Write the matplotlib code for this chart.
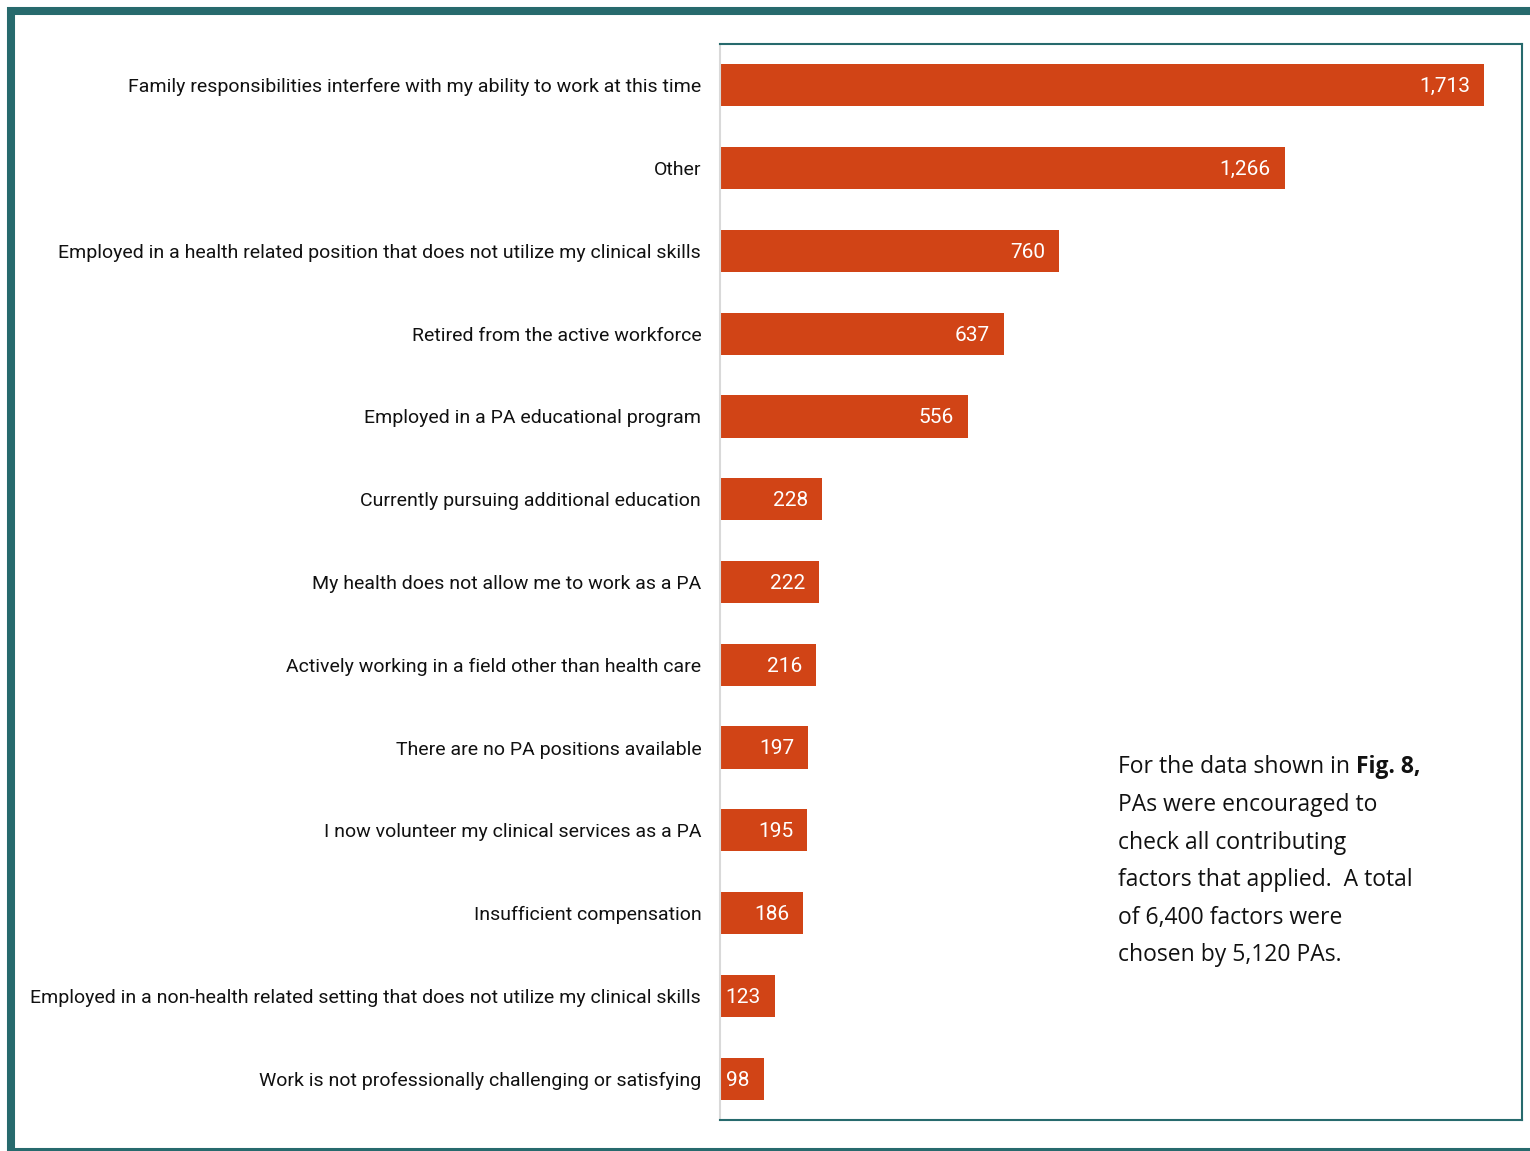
import numpy as np
import matplotlib.pyplot as plt
from matplotlib.lines import Line2D

# categories and counts (top to bottom as in the figure)
reasons = [
    'Family responsibilities interfere with my ability to work at this time',
    'Other',
    'Employed in a health related position that does not utilize my clinical skills',
    'Retired from the active workforce',
    'Employed in a PA educational program',
    'Currently pursuing additional education',
    'My health does not allow me to work as a PA',
    'Actively working in a field other than health care',
    'There are no PA positions available',
    'I now volunteer my clinical services as a PA',
    'Insufficient compensation',
    'Employed in a non-health related setting that does not utilize my clinical skills',
    'Work is not professionally challenging or satisfying',
]
counts = [1713, 1266, 760, 637, 556, 228, 222, 216, 197, 195, 186, 123, 98]

note_lines = ['PAs were encouraged to',
              'check all contributing',
              'factors that applied.  A total',
              'of 6,400 factors were',
              'chosen by 5,120 PAs.']

BAR = '#D14416'
TEAL = '#276A6D'
W, H = 1530, 1151

fig = plt.figure(figsize=(W / 100, H / 100), dpi=100)
ax = fig.add_axes([720 / W, 1 - 1120 / H, 802 / W, 1076 / H])

y = np.arange(len(reasons))
ax.barh(y, counts, height=0.51, color=BAR)
ax.set_ylim(len(reasons) - 0.5, -0.5)
ax.set_xlim(0, 1798)
ax.set_xticks([])
ax.set_yticks(y)
ax.set_yticklabels(reasons, family='Roboto', fontsize=14, color='#111111')
ax.tick_params(axis='y', length=0, pad=13.5)

for yi, c in zip(y, counts):
    ax.annotate(f'{c:,}', (c, yi), xytext=(-10, -1), textcoords='offset points',
                ha='right', va='center', color='white', family='Roboto', fontsize=15)

for s in ['top', 'right', 'bottom']:
    ax.spines[s].set_color(TEAL)
    ax.spines[s].set_linewidth(1.5)
ax.spines['left'].set_color('#d9d9d9')
ax.spines['left'].set_linewidth(1.5)

# note text on the right
x0 = 1118 / W
t = fig.text(x0, 1 - 767 / H, 'For the data shown in ', family='Open Sans',
             fontsize=16.5, va='center', color='#111111')
fig.canvas.draw()
bb = t.get_window_extent()
fig.text(bb.x1 / W, 1 - 767 / H, 'Fig. 8,', family='Open Sans', fontweight='bold',
         fontsize=16.5, va='center', color='#111111')
for i, line in enumerate(note_lines):
    fig.text(x0, 1 - (805 + i * 37.6) / H, line, family='Open Sans',
             fontsize=16.5, va='center', color='#111111')

# outer frame
fig.add_artist(Line2D([7 / W, 1], [1 - 11 / H, 1 - 11 / H], color=TEAL, lw=5.8,
                      solid_capstyle='butt', transform=fig.transFigure))
fig.add_artist(Line2D([11 / W, 11 / W], [0, 1 - 7 / H], color=TEAL, lw=5.8,
                      solid_capstyle='butt', transform=fig.transFigure))
fig.add_artist(Line2D([7 / W, 1], [1 - 1149 / H, 1 - 1149 / H], color=TEAL, lw=2.2,
                      solid_capstyle='butt', transform=fig.transFigure))

fig.savefig('out.png', dpi=100)
